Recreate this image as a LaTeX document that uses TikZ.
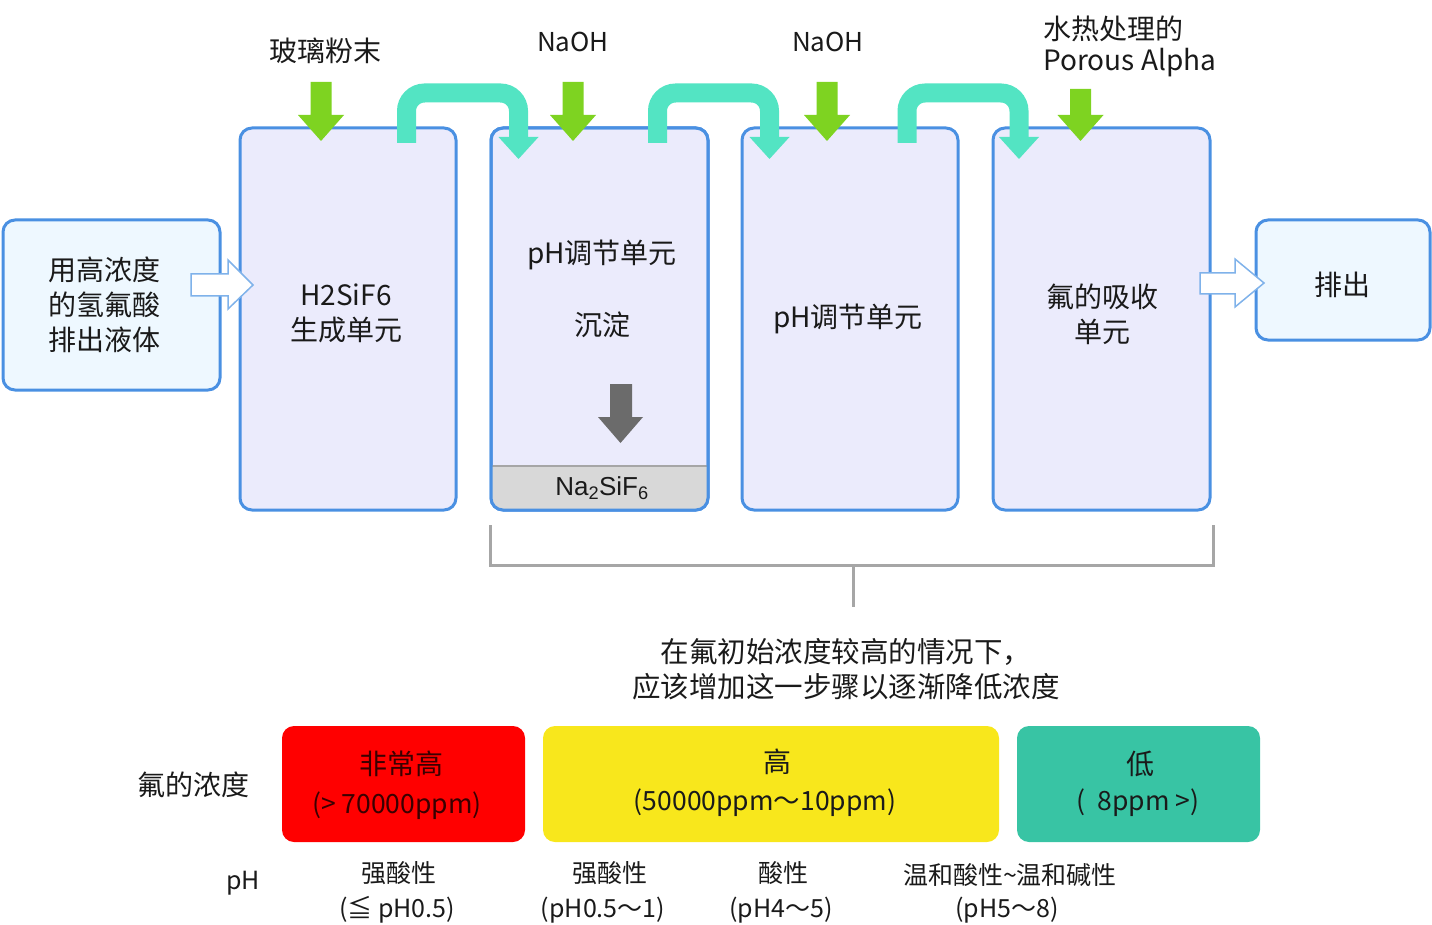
\documentclass[tikz,border=0pt]{standalone}
\usepackage{fontspec}
\setmainfont{Noto Sans CJK SC}
\newfontfamily\arialf{Liberation Sans}
\definecolor{blueline}{HTML}{4A90E2}
\definecolor{unitfill}{HTML}{EBEBFC}
\definecolor{iofill}{HTML}{EEF8FF}
\definecolor{greenarr}{HTML}{7ED321}
\definecolor{tealarr}{HTML}{53E4C3}
\definecolor{greyarr}{HTML}{6B6B6B}
\definecolor{bandgrey}{HTML}{D8D8D8}
\definecolor{bracketgrey}{HTML}{A6A6A6}
\definecolor{redbox}{HTML}{FF0000}
\definecolor{yellowbox}{HTML}{F8E71C}
\definecolor{tealbox}{HTML}{38C4A4}
\definecolor{hollowline}{HTML}{7FB2EA}
\definecolor{txt}{HTML}{1A1A1A}
\definecolor{redtxt}{HTML}{3A0000}
\begin{document}
\begin{tikzpicture}[x=1pt,y=-1pt,
  unitbox/.style={draw=blueline,line width=3pt,fill=unitfill,rounded corners=12pt},
  iobox/.style={draw=blueline,line width=3pt,fill=iofill,rounded corners=12pt},
  bigtxt/.style={font=\fontsize{28}{35}\selectfont,text=txt,align=center,inner sep=0pt},
  midtxt/.style={font=\fontsize{25}{30}\selectfont,text=txt,align=center,inner sep=0pt},
  ppmtxt/.style={font=\fontsize{26.5}{30}\selectfont,text=txt,align=center,inner sep=0pt},
  hollow/.style={draw=hollowline,line width=1.5pt,fill=white},
  tealpipe/.style={draw=tealarr,line width=19pt,rounded corners=18pt},
  catbox/.style={rounded corners=12pt},
  bracketline/.style={draw=bracketgrey,line width=3pt}]
\useasboundingbox (0,0) rectangle (1432,925);

% input / output boxes
\draw[iobox] (3,220) rectangle (220,390);
\node[bigtxt] (inp) at (104,305) {用高浓度\\的氢氟酸\\排出液体};
\draw[iobox] (1256,220) rectangle (1430,340);
\node[bigtxt] (outp) at (1342,285) {排出};

% unit boxes
\draw[unitbox] (240,128) rectangle (456,510);
\draw[unitbox] (491,128) rectangle (708,510);
\begin{scope}
  \clip[rounded corners=12pt] (491,128) rectangle (708,510);
  \fill[bandgrey] (491,466) rectangle (708,510);
  \draw[bracketgrey,line width=1.5pt] (491,466) -- (708,466);
\end{scope}
\draw[draw=blueline,line width=3pt,rounded corners=12pt] (491,128) rectangle (708,510);
\draw[unitbox] (742,128) rectangle (958,510);
\draw[unitbox] (993,128) rectangle (1210,510);

% unit texts
\node[bigtxt] (u1) at (346,313) {H2SiF6\\生成单元};
\node[bigtxt] (u2a) at (602,255) {pH调节单元};
\node[bigtxt] (u2b) at (602,325) {沉淀};
\node[font=\arialf\fontsize{26}{30}\selectfont,text=txt,inner sep=0pt] (na) at (602,488) {Na\textsubscript{2}SiF\textsubscript{6}};
\node[bigtxt] (u3) at (848,319) {pH调节单元};
\node[bigtxt] (u4) at (1102,314) {氟的吸收\\单元};

% grey settling arrow
\fill[greyarr] (610,384) -- (632,384) -- (632,417) -- (643,417) -- (620.5,443) -- (598,417) -- (610,417) -- cycle;

% hollow arrows
\draw[hollow] (191,274) -- (228,274) -- (228,260) -- (253,285) -- (228,309) -- (228,296) -- (191,296) -- cycle;
\draw[hollow] (1200,273) -- (1235,273) -- (1235,259) -- (1264,283) -- (1235,307) -- (1235,294) -- (1200,294) -- cycle;

% green feed arrows
\foreach \c/\t in {321/82,573/82,827/82,1080.5/89}{
  \fill[greenarr] (\c-10.5,\t) -- (\c+10.5,\t) -- (\c+10.5,115) -- (\c+23,115) -- (\c,141) -- (\c-23,115) -- (\c-10.5,115) -- cycle;
}

% teal transfer arrows
\foreach \a/\b in {406.5/518.5,657.5/769.5,907/1019}{
  \draw[tealpipe] (\a,143) -- (\a,93) -- (\b,93) -- (\b,138);
  \fill[tealarr] (\b-20,137) -- (\b+20,137) -- (\b,159) -- cycle;
}

% top labels
\node[bigtxt] (l1) at (325,51) {玻璃粉末};
\node[font=\fontsize{26}{30}\selectfont,text=txt,inner sep=0pt] (l2) at (573,42) {NaOH};
\node[font=\fontsize{26}{30}\selectfont,text=txt,inner sep=0pt] (l3) at (828,42) {NaOH};
\node[bigtxt,anchor=west] (l4a) at (1043,29) {水热处理的};
\node[bigtxt,anchor=west] (l4b) at (1043,63) {Porous Alpha};

% bracket
\coordinate (bl) at (490,525);
\coordinate (blc) at (490,565);
\coordinate (brc) at (1213,565);
\coordinate (br) at (1213,525);
\coordinate (bm) at (853,565);
\coordinate (bs) at (853,607);
\draw[bracketline] (bl) -- (blc) -- (brc) -- (br);
\draw[bracketline] (bm) -- (bs);
\node[font=\fontsize{28.5}{35}\selectfont,text=txt,align=center,inner sep=0pt] (note) at (846,669) {在氟初始浓度较高的情况下，\\应该增加这一步骤以逐渐降低浓度};

% concentration scale
\node[bigtxt] (conc) at (193,785) {氟的浓度};
\fill[redbox,catbox] (282,726) rectangle (525,842);
\node[bigtxt,text=redtxt] (c1a) at (401,764) {非常高};
\node[ppmtxt,text=redtxt] (c1b) at (397,806) {(> 70000ppm)};
\fill[yellowbox,catbox] (543,726) rectangle (999,842);
\node[bigtxt] (c2a) at (777,762) {高};
\node[ppmtxt] (c2b) at (765,803) {(50000ppm～10ppm)};
\fill[tealbox,catbox] (1017,726) rectangle (1260,842);
\node[bigtxt] (c3a) at (1140,764) {低};
\node[ppmtxt] (c3b) at (1138,803) {(\ \ 8ppm >)};

% pH row
\node[midtxt] (ph) at (243,883) {pH};
\node[midtxt] (p1a) at (399,873) {强酸性};
\node[midtxt] (p1b) at (397,910) {(≦ pH0.5)};
\node[midtxt] (p2a) at (610,873) {强酸性};
\node[midtxt] (p2b) at (603,910) {(pH0.5～1)};
\node[midtxt] (p3a) at (783,873) {酸性};
\node[midtxt] (p3b) at (781,910) {(pH4～5)};
\node[midtxt] (p4a) at (1010,875) {温和酸性\textasciitilde 温和碱性};
\node[midtxt] (p4b) at (1007,910) {(pH5～8)};
\end{tikzpicture}
\end{document}
